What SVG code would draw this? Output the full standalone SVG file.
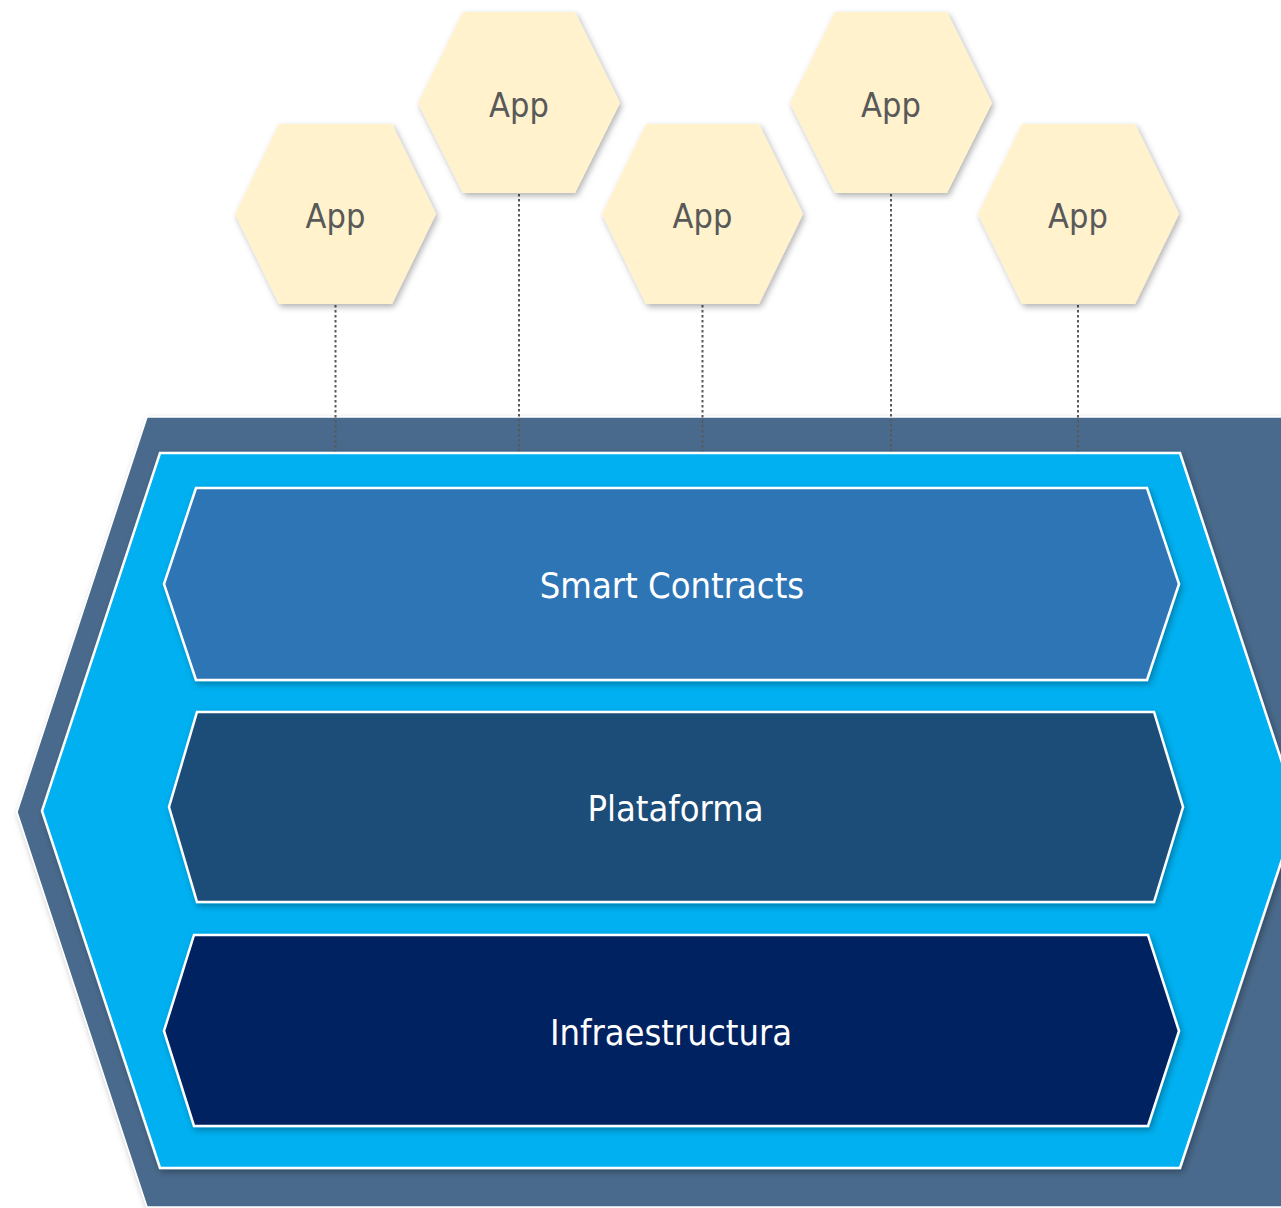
<svg xmlns="http://www.w3.org/2000/svg" width="1281" height="1208" viewBox="0 0 1281 1208">
  <style>
    .app { fill: #FFF2CC; filter: url(#sh); }
    .appt { font-family: "DejaVu Sans Condensed", "DejaVu Sans", sans-serif; font-size: 34px; fill: #595959; text-anchor: middle; }
    .layer { stroke: #FFFFFF; stroke-width: 2.5; filter: url(#sh); }
    .lt { font-family: "DejaVu Sans Condensed", "DejaVu Sans", sans-serif; font-size: 36px; fill: #FFFFFF; text-anchor: middle; }
    .conn { stroke: #595959; stroke-width: 2; stroke-dasharray: 2.5 2.5; fill: none; }
  </style>
  <defs>
    <filter id="sh" x="-10%" y="-10%" width="120%" height="130%">
      <feDropShadow dx="2" dy="3" stdDeviation="3" flood-color="#000000" flood-opacity="0.3"/>
    </filter>
  </defs>
  <rect width="1281" height="1208" fill="#FFFFFF"/>

  <g id="platform-outer">
    <polygon points="147,417 1300,417 1300,1207 147,1207 17,812" fill="#486A8C" stroke="#FFFFFF" stroke-width="1.5" filter="url(#sh)"/>
  </g>

  <g id="connectors">
    <line class="conn" x1="335.5" y1="305" x2="335.5" y2="452"/>
    <line class="conn" x1="519" y1="194" x2="519" y2="452"/>
    <line class="conn" x1="702.5" y1="305" x2="702.5" y2="452"/>
    <line class="conn" x1="891" y1="194" x2="891" y2="452"/>
    <line class="conn" x1="1078" y1="305" x2="1078" y2="452"/>
  </g>

  <g id="platform-inner">
    <polygon points="160,453 1180,453 1298,811 1180,1168 160,1168 42,811" fill="#00B0F0" stroke="#FFFFFF" stroke-width="2.5" filter="url(#sh)"/>
  </g>

  <g id="smart-contracts">
    <polygon class="layer" points="196,488 1147,488 1179,584 1147,680 196,680 164,584" fill="#2E75B6"/>
    <text class="lt" x="672" y="598">Smart Contracts</text>
  </g>
  <g id="plataforma">
    <polygon class="layer" points="197,712 1154,712 1183,807 1154,902 197,902 169,807" fill="#1F4E79"/>
    <text class="lt" x="675.5" y="821">Plataforma</text>
  </g>
  <g id="infraestructura">
    <polygon class="layer" points="194,935 1148,935 1179,1031 1148,1126 194,1126 164,1031" fill="#002060"/>
    <text class="lt" x="671" y="1045">Infraestructura</text>
  </g>

  <g id="app1">
    <polygon class="app" points="279,124 392,124 436,214 392,304 279,304 235,214"/>
    <text class="appt" x="335.5" y="228">App</text>
  </g>
  <g id="app2">
    <polygon class="app" points="463,12 575,12 620,103 575,193 463,193 418,103"/>
    <text class="appt" x="519" y="117">App</text>
  </g>
  <g id="app3">
    <polygon class="app" points="646,124 759,124 803,214 759,304 646,304 602,214"/>
    <text class="appt" x="702.5" y="228">App</text>
  </g>
  <g id="app4">
    <polygon class="app" points="835,12 947,12 992,103 947,193 835,193 790,103"/>
    <text class="appt" x="891" y="117">App</text>
  </g>
  <g id="app5">
    <polygon class="app" points="1022,124 1135,124 1179,214 1135,304 1022,304 978,214"/>
    <text class="appt" x="1078" y="228">App</text>
  </g>
</svg>
